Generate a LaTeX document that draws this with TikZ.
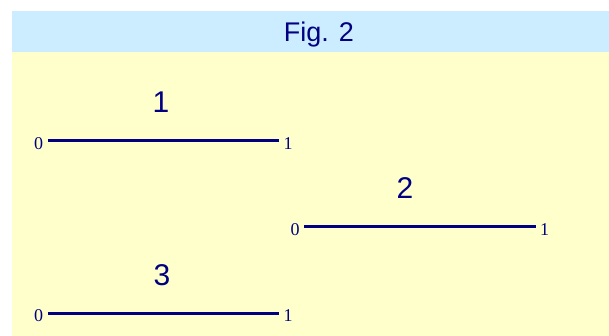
\documentclass[tikz,border=0pt]{standalone}
\usepackage{fontspec}
\setmainfont{Liberation Serif}
\newfontfamily\labfont{Liberation Sans}
\definecolor{hdr}{HTML}{CCECFF}
\definecolor{pale}{HTML}{FFFFCC}
\definecolor{ink}{HTML}{000080}
\begin{document}
\begin{tikzpicture}[x=1pt,y=-1pt,
  title/.style={font=\labfont\fontsize{27}{30}\selectfont, text=ink, anchor=base, inner sep=0pt},
  biglab/.style={font=\labfont\fontsize{30}{34}\selectfont, text=ink, anchor=base, inner sep=0pt},
  endlab/.style={font=\fontsize{18}{20}\selectfont, text=ink, anchor=base, inner sep=0pt},
  seg/.style={draw=ink, line width=3pt}]
\useasboundingbox (0,0) rectangle (609,336);
\fill[white] (0,0) rectangle (609,336);
\fill[pale] (12,52) rectangle (609,336);
\fill[hdr] (12,11) rectangle (609,52);
\node[title] (fig) at (319,41.7) {Fig. 2};
% line 1
\node[endlab] (a0) at (38.5,149.5) {0};
\node[endlab] (a1) at (288,149.5) {1};
\coordinate (a0e) at (48,141);
\coordinate (a1e) at (279,141);
\draw[seg] (a0e) -- (a1e);
\node[biglab] (l1) at (161,113) {1};
% line 2
\node[endlab] (b0) at (295,235.5) {0};
\node[endlab] (b1) at (544.5,235.5) {1};
\coordinate (b0e) at (304,227);
\coordinate (b1e) at (536,227);
\draw[seg] (b0e) -- (b1e);
\node[biglab] (l2) at (405,199) {2};
% line 3
\node[endlab] (c0) at (38.5,321.5) {0};
\node[endlab] (c1) at (288,321.5) {1};
\coordinate (c0e) at (48,313);
\coordinate (c1e) at (279,313);
\draw[seg] (c0e) -- (c1e);
\node[biglab] (l3) at (162,285) {3};
\end{tikzpicture}
\end{document}
